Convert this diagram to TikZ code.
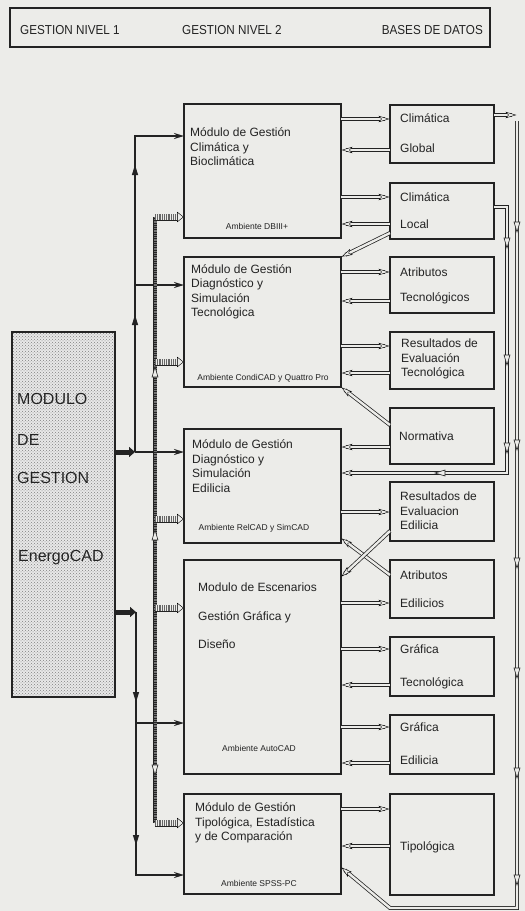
\documentclass[tikz,border=0pt]{standalone}
\usepackage{fontspec}
\setmainfont{Liberation Sans}
\newfontfamily\hdrfont[FakeStretch=0.9]{Liberation Sans}
\usetikzlibrary{arrows.meta,patterns,decorations.markings}
\definecolor{bgc}{RGB}{236,236,233}
\definecolor{ink}{RGB}{35,35,35}
\newcommand\dblarr[2]{\draw[dblline] #1 -- #2; \path[tipmark] #1 -- #2;}
\newcommand\hatarr[2]{\draw[hatline] #1 -- #2; \path[hattip] #1 -- #2;}
\tikzset{
  box/.style={draw=ink, line width=1.2pt, inner sep=0, outer sep=0, anchor=north west},
  txt/.style={inner sep=0, anchor=west, align=left, text=ink, font=\fontsize{12}{14.5}\selectfont},
  ftr/.style={inner sep=0, text=ink, font=\fontsize{8.5}{10}\selectfont},
  big/.style={inner sep=0, anchor=west, text=ink, font=\fontsize{16}{18}\selectfont},
  hdr/.style={inner sep=0, text=ink, font=\hdrfont\fontsize{13}{15}\selectfont},
  dblline/.style={draw=ink, double=bgc, double distance=2.4pt, line width=.75pt, shorten >=5pt},
  tipmark/.style={color=ink, line width=.75pt, decoration={markings, mark=at position 1 with {\arrow{Stealth[length=12pt,width=7pt,inset=3pt,fill=bgc]}}}, decorate},
  hatline/.style={draw=ink, line width=7pt, shorten >=5pt,
     postaction={draw=bgc, line width=5.4pt, shorten >=5pt},
     postaction={draw=black!60, line width=5.4pt, dash pattern=on .9pt off .9pt, shorten >=5pt}},
  hattip/.style={color=ink, line width=.75pt, decoration={markings, mark=at position 1 with {\arrow{Triangle[length=7pt,width=11pt,fill=bgc]}}}, decorate},
  hatrail/.style={draw=ink, line width=4.5pt,
     postaction={draw=black!55, line width=3pt, dash pattern=on .9pt off .9pt}},
  blk/.style={draw=ink, line width=2pt, -{Stealth[length=10pt,width=6pt]}},
  thk/.style={draw=ink, line width=5pt, -{Triangle[length=6pt,width=10pt]}},
  otip/.pic={\draw[fill=bgc, draw=ink, line width=.6pt] (-5,-3) -- (5,0) -- (-5,3) -- cycle;},
  btip/.pic={\fill[ink] (-5,-3.2) -- (5,0) -- (-5,3.2) -- cycle;},
}
\begin{document}
\begin{tikzpicture}[x=1pt,y=-1pt]
\fill[bgc] (0,0) rectangle (525,911);
\path[use as bounding box] (0,0) rectangle (525,911);

% header
\node[box, minimum width=480pt, minimum height=39pt] (hd) at (10,8) {};
\node[hdr, anchor=west] (h1) at (20,30) {GESTION NIVEL 1};
\node[hdr, anchor=west] (h2) at (182,30) {GESTION NIVEL 2};
\node[hdr, anchor=east] (h3) at (483,30) {BASES DE DATOS};

% main module
\node[box, minimum width=103pt, minimum height=365pt, preaction={fill=gray!18}, pattern=crosshatch dots, pattern color=black!50] (M) at (12,332) {};
\node[big] (m1) at (17,399) {MODULO};
\node[big] (m2) at (17,440) {DE};
\node[big] (m3) at (17,478) {GESTION};
\node[big] (m4) at (18,558) {EnergoCAD};

% level 2 modules
\node[box, minimum width=157pt, minimum height=134pt] (b1) at (184,104) {};
\node[box, minimum width=157pt, minimum height=130pt] (b2) at (184,257) {};
\node[box, minimum width=157pt, minimum height=114pt] (b3) at (184,429) {};
\node[box, minimum width=157pt, minimum height=214pt] (b4) at (184,560) {};
\node[box, minimum width=157pt, minimum height=100pt] (b5) at (184,794) {};

\node[txt] (t1) at (190,147) {Módulo de Gestión\\Climática y\\Bioclimática};
\node[txt] (t2) at (191,292) {Módulo de Gestión\\Diagnóstico y\\Simulación\\Tecnológica};
\node[txt] (t3) at (192,466) {Módulo de Gestión\\Diagnóstico y\\Simulación\\Edilicia};
\node[txt] (t4) at (198,616) {Modulo de Escenarios\\[14pt]Gestión Gráfica y\\[14pt]Diseño};
\node[txt] (t5) at (195,823) {Módulo de Gestión\\Tipológica, Estadística\\y de Comparación};

\node[ftr] (f1) at (257,226) {Ambiente DBIII+};
\node[ftr] (f2) at (263,378) {Ambiente CondiCAD y Quattro Pro};
\node[ftr] (f3) at (254,528) {Ambiente RelCAD y SimCAD};
\node[ftr] (f4) at (259,748) {Ambiente AutoCAD};
\node[ftr] (f5) at (259,883) {Ambiente SPSS-PC};

% data bases
\node[box, minimum width=104pt, minimum height=58pt] (d1) at (390,105) {};
\node[box, minimum width=104pt, minimum height=56pt] (d2) at (390,183) {};
\node[box, minimum width=104pt, minimum height=56pt] (d3) at (390,257) {};
\node[box, minimum width=104pt, minimum height=57pt] (d4) at (390,332) {};
\node[box, minimum width=104pt, minimum height=56pt] (d5) at (390,408) {};
\node[box, minimum width=104pt, minimum height=59pt] (d6) at (390,482) {};
\node[box, minimum width=104pt, minimum height=58pt] (d7) at (390,560) {};
\node[box, minimum width=104pt, minimum height=59pt] (d8) at (390,637) {};
\node[box, minimum width=104pt, minimum height=59pt] (d9) at (390,715) {};
\node[box, minimum width=104pt, minimum height=101pt] (d10) at (390,794) {};

\node[txt] (e1a) at (400,118) {Climática};
\node[txt] (e1b) at (400,148) {Global};
\node[txt] (e2a) at (400,197) {Climática};
\node[txt] (e2b) at (400,224) {Local};
\node[txt] (e3a) at (400,272) {Atributos};
\node[txt] (e3b) at (400,298) {Tecnológicos};
\node[txt] (e4) at (401,359) {Resultados de\\Evaluación\\Tecnológica};
\node[txt] (e5) at (399,436) {Normativa};
\node[txt] (e6) at (400,511) {Resultados de\\Evaluacion\\Edilicia};
\node[txt] (e7a) at (400,575) {Atributos};
\node[txt] (e7b) at (400,603) {Edilicios};
\node[txt] (e8a) at (400,649) {Gráfica};
\node[txt] (e8b) at (400,683) {Tecnológica};
\node[txt] (e9a) at (400,727) {Gráfica};
\node[txt] (e9b) at (400,760) {Edilicia};
\node[txt] (e10) at (400,847) {Tipológica};

% module <-> database arrows
\dblarr{(b1.east|-0,119)}{(d1.west|-0,119)}
\dblarr{(d1.west|-0,150)}{(b1.east|-0,150)}
\dblarr{(b1.east|-0,197)}{(d2.west|-0,197)}
\dblarr{(d2.west|-0,224)}{(b1.east|-0,224)}
\dblarr{(d2.west|-0,233)}{(b2.north east)}
\dblarr{(b2.east|-0,272)}{(d3.west|-0,272)}
\dblarr{(d3.west|-0,301)}{(b2.east|-0,301)}
\dblarr{(b2.east|-0,346)}{(d4.west|-0,346)}
\dblarr{(d4.west|-0,373)}{(b2.east|-0,373)}
\dblarr{(d5.west|-0,425)}{(b2.south east)}
\dblarr{(d5.west|-0,447)}{(b3.east|-0,447)}
\dblarr{(b3.east|-0,512)}{(d6.west|-0,512)}
\dblarr{(d7.west|-0,575)}{(b3.east|-0,538)}
\dblarr{(d6.west|-0,531)}{(b4.east|-0,577)}
\dblarr{(b4.east|-0,603)}{(d7.west|-0,603)}
\dblarr{(b4.east|-0,649)}{(d8.west|-0,649)}
\dblarr{(d8.west|-0,685)}{(b4.east|-0,685)}
\dblarr{(b4.east|-0,727)}{(d9.west|-0,727)}
\dblarr{(d9.west|-0,763)}{(b4.east|-0,763)}
\dblarr{(b5.east|-0,809)}{(d10.west|-0,809)}
\dblarr{(d10.west|-0,846)}{(b5.east|-0,846)}

% right rails
\coordinate (railM) at (507,0);
\coordinate (railR) at (517,0);
\dblarr{(d1.east|-0,115)}{(railR|-0,115)}
\dblarr{(railR|-0,121) -- (railR|-0,908) -- (d10.west|-0,908)}{(b5.east|-0,867)}
\dblarr{(d2.east|-0,207) -- (railM|-0,207) -- (railM|-0,473)}{(b3.east|-0,473)}
\foreach \yy in {227,445,563,673,773,880} \pic[rotate=-90] at (517,\yy) {otip};
\foreach \yy in {243,360,448} \pic[rotate=-90] at (507,\yy) {otip};
\pic[rotate=180] at (440,473) {otip};

% left black connectors
\coordinate (jA) at (135,452);
\coordinate (jB) at (136,612);
\draw[thk] (M.east|-jA) -- (jA);
\draw[thk] (M.east|-jB) -- (jB);
\draw[blk] (jA) -- (jA|-0,136) -- (b1.west|-0,136);
\draw[blk] (jA|-0,285) -- (b2.west|-0,285);
\draw[blk] (jA) -- (b3.west|-jA);
\draw[blk] (jB) -- (jB|-0,875) -- (b5.west|-0,875);
\draw[blk] (jB|-0,723) -- (b4.west|-0,723);
\foreach \yy in {170,320} \pic[rotate=90] at (135,\yy) {btip};
\foreach \yy in {697,840} \pic[rotate=-90] at (136,\yy) {btip};

% hatched connectors
\coordinate (hT) at (155,217);
\coordinate (hB) at (155,823);
\draw[hatrail] (hT) -- (hB);
\foreach \yy in {372,535} \pic[rotate=90] at (155,\yy) {otip};
\pic[rotate=-90] at (155,770) {otip};
\hatarr{(hT)}{(b1.west|-hT)}
\hatarr{(hT|-0,362)}{(b2.west|-0,362)}
\hatarr{(hT|-0,519)}{(b3.west|-0,519)}
\hatarr{(hT|-0,608)}{(b4.west|-0,608)}
\hatarr{(hB)}{(b5.west|-hB)}
\end{tikzpicture}
\end{document}
